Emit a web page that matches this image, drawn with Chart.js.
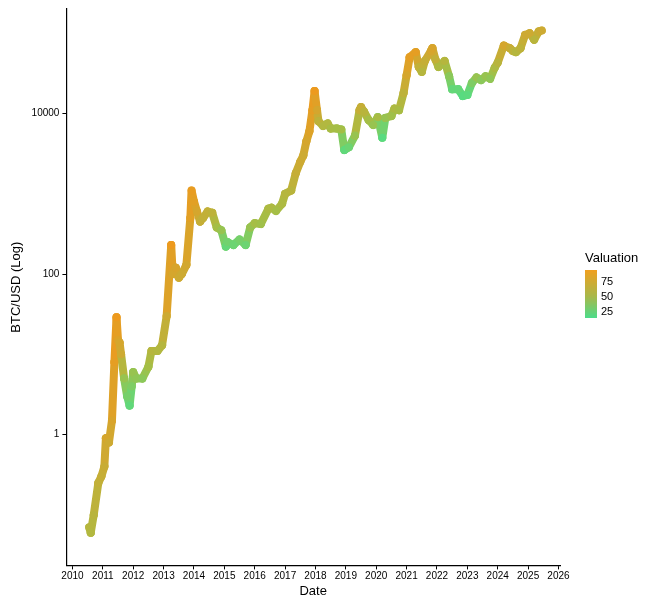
<!DOCTYPE html>
<html><head><meta charset="utf-8">
<script src="https://cdn.jsdelivr.net/npm/chart.js@4"></script>
<style>
body{margin:0;background:#fff;font-family:"Liberation Sans",Arial,sans-serif;}
#wrap{position:relative;width:653px;height:604px;}
#leg{position:absolute;left:585px;top:250px;font-size:12px;color:#000;}
#leg .t{font-size:13px;margin-bottom:6px;}
#bar{position:absolute;left:0;top:20px;width:12px;height:48px;background:linear-gradient(#f0a020,#a8b84a 55%,#4cdc8a);}
.l{position:absolute;left:16px;font-size:11px;}
</style></head><body>
<div id="wrap"><canvas id="c" width="653" height="604"></canvas>
<div id="leg"><div class="t">Valuation</div><div id="bar"></div>
<div class="l" style="top:25px">75</div><div class="l" style="top:40px">50</div><div class="l" style="top:55px">25</div></div></div>
<script>
const dates=[2010.55,2010.6,2010.7,2010.85,2010.95,2011.05,2011.1,2011.2,2011.3,2011.38,2011.45,2011.5,2011.55,2011.6,2011.7,2011.8,2011.88,2011.95,2012.0,2012.1,2012.3,2012.5,2012.6,2012.8,2012.95,2013.1,2013.25,2013.3,2013.4,2013.5,2013.6,2013.75,2013.88,2013.92,2014.0,2014.1,2014.2,2014.3,2014.45,2014.6,2014.75,2014.9,2015.05,2015.1,2015.3,2015.5,2015.7,2015.85,2016.0,2016.2,2016.45,2016.55,2016.7,2016.9,2017.0,2017.2,2017.35,2017.5,2017.6,2017.7,2017.8,2017.9,2017.97,2018.05,2018.1,2018.25,2018.4,2018.5,2018.7,2018.85,2018.95,2019.1,2019.3,2019.45,2019.5,2019.6,2019.75,2019.9,2020.05,2020.2,2020.3,2020.5,2020.6,2020.75,2020.9,2021.0,2021.1,2021.3,2021.4,2021.5,2021.6,2021.8,2021.85,2021.95,2022.05,2022.25,2022.4,2022.5,2022.7,2022.85,2023.0,2023.15,2023.3,2023.45,2023.6,2023.75,2023.9,2024.0,2024.2,2024.4,2024.5,2024.6,2024.75,2024.9,2025.05,2025.2,2025.35,2025.45];
const prices=[0.07,0.06,0.1,0.25,0.3,0.4,0.9,0.8,1.5,8,29,15,14,10,5,3,2.3,4,6,5,5,7,11,11,13,30,230,100,120,90,100,130,500,1100,800,600,450,500,600,580,380,350,220,250,230,270,230,380,430,420,650,670,610,750,1000,1100,1800,2500,3000,4500,6000,11000,19000,11000,8000,7000,7500,6500,6500,6300,3500,3800,5300,11000,12000,10500,8300,7200,9000,5000,8800,9300,11500,11000,18000,30000,50000,58000,38000,33000,45000,60000,65000,47000,38000,45000,29000,20000,20000,16500,17000,24000,28000,26000,29000,27000,37000,43000,70000,65000,60000,58000,65000,95000,100000,83000,105000,108000];
const valuation=[60,58,62,68,70,72,80,75,82,90,95,85,80,75,45,32,22,35,45,42,40,50,60,58,60,75,95,80,82,75,75,78,88,92,88,80,70,68,68,65,50,45,25,30,28,32,28,45,50,48,55,55,50,55,60,62,70,75,75,80,85,90,95,80,65,58,58,52,50,50,22,28,45,70,70,62,50,45,52,15,45,48,55,52,65,80,90,90,68,60,70,80,82,68,55,60,40,25,25,15,18,35,45,40,45,42,55,62,80,72,65,60,65,75,75,62,72,75];
const yTicks=[1,100,10000];
const xTicks=[2010,2011,2012,2013,2014,2015,2016,2017,2018,2019,2020,2021,2022,2023,2024,2025,2026];
function col(v){const s=[[0,[70,225,140]],[25,[100,215,120]],[50,[165,190,70]],[75,[205,170,50]],[100,[245,150,25]]];
for(let i=0;i<s.length-1;i++){if(v<=s[i+1][0]){const t=(v-s[i][0])/(s[i+1][0]-s[i][0]);const a=s[i][1],b=s[i+1][1];return `rgb(${a.map((x,k)=>Math.round(x+(b[k]-x)*t)).join(',')})`;}}return 'rgb(245,150,25)';}
const pts=dates.map((d,i)=>({x:d,y:prices[i]}));
new Chart(document.getElementById('c'),{type:'scatter',data:{datasets:[{data:pts,showLine:true,borderWidth:8,borderJoinStyle:'round',borderCapStyle:'round',
segment:{borderColor:c=>col((valuation[c.p0DataIndex]+valuation[c.p1DataIndex])/2)},
pointRadius:4,pointBorderWidth:0,pointBackgroundColor:valuation.map(col)}]},
options:{responsive:false,animation:false,layout:{padding:{right:93,top:5,left:5,bottom:5}},
plugins:{legend:{display:false},tooltip:{enabled:false}},
scales:{x:{type:'linear',min:2009.8,max:2026.05,grid:{display:true,drawOnChartArea:false,drawTicks:true,tickLength:4,color:'#000'},border:{color:'#000',width:1.2},
afterBuildTicks:a=>{a.ticks=xTicks.map(v=>({value:v}))},ticks:{color:'#000',font:{size:10},maxRotation:0,autoSkip:false,padding:1,callback:v=>v},
title:{display:true,text:'Date',color:'#000',font:{size:13},padding:0}},
y:{type:'logarithmic',min:0.0235,max:200000,grid:{display:true,drawOnChartArea:false,tickLength:4,color:'#000'},border:{color:'#000',width:1.2},
afterBuildTicks:a=>{a.ticks=yTicks.map(v=>({value:v}))},ticks:{color:'#000',font:{size:10},autoSkip:false,callback:v=>String(v)},
title:{display:true,text:'BTC/USD (Log)',color:'#000',font:{size:13}}}}}});
</script></body></html>
